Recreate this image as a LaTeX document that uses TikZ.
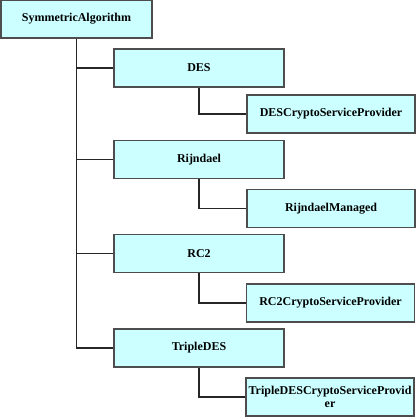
\documentclass[tikz,border=0pt]{standalone}
\usepackage{fontspec}
\setmainfont{Liberation Serif}
\definecolor{boxfill}{HTML}{CCFFFF}
\definecolor{boxline}{HTML}{4D4D4D}
\begin{document}
\begin{tikzpicture}[x=1pt,y=-1pt,
  box/.style={draw=boxline, fill=boxfill, line width=1.3pt, minimum height=38pt,
    inner sep=0pt, align=center, font=\fontsize{12}{13}\selectfont\bfseries},
  parentbox/.style={box, minimum width=170pt},
  childbox/.style={box, minimum width=168pt},
  conn/.style={draw=black!85, line width=1.1pt}]
\useasboundingbox (0,0) rectangle (417,417);
\node[box, minimum width=151pt] (root) at (76.5,19) {SymmetricAlgorithm};
\node[parentbox] (des) at (199,68) {DES};
\node[childbox] (desc) at (331,114) {DESCryptoServiceProvider};
\node[parentbox] (rij) at (199,159.5) {Rijndael};
\node[childbox] (rijm) at (331,208.5) {RijndaelManaged};
\node[parentbox] (rc2) at (199,253.5) {RC2};
\node[childbox] (rc2c) at (330.5,303) {RC2CryptoServiceProvider};
\node[parentbox] (tdes) at (199,348) {TripleDES};
\node[childbox] (tdesc) at (330,397) {TripleDESCryptoServiceProvid\\er};
\draw[conn] (root.south) -- (root.south |- tdes.west) -- (tdes.west);
\foreach \p in {des,rij,rc2}
  \draw[conn] (root.south |- \p.west) -- (\p.west);
\draw[conn] (des.south) -- (des.south |- desc.west) -- (desc.west);
\draw[conn] (rij.south) -- (rij.south |- rijm.west) -- (rijm.west);
\draw[conn] (rc2.south) -- (rc2.south |- rc2c.west) -- (rc2c.west);
\draw[conn] (tdes.south) -- (tdes.south |- tdesc.west) -- (tdesc.west);
\end{tikzpicture}
\end{document}
